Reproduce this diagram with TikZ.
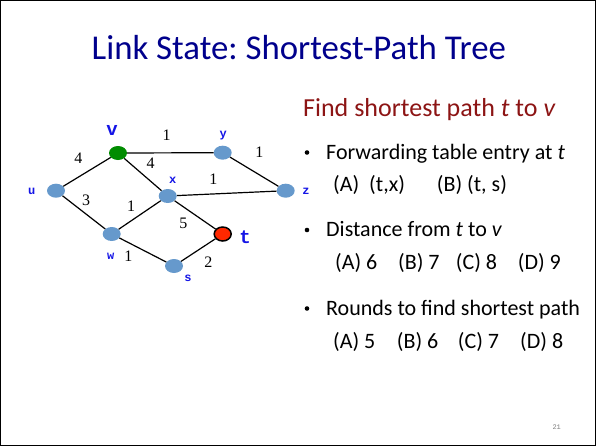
\documentclass[tikz,border=0pt]{standalone}
\usepackage{fontspec}
\setmainfont{Carlito}
\newfontfamily\monob{Liberation Mono}
\newfontfamily\timesf{Liberation Serif}
\usetikzlibrary{shapes.geometric}
\frenchspacing
\definecolor{titleblue}{RGB}{0,0,140}
\definecolor{darkred}{RGB}{140,20,20}
\definecolor{nodeblue}{RGB}{102,153,204}
\definecolor{nodegreen}{RGB}{0,140,0}
\definecolor{nodered}{RGB}{255,40,0}
\definecolor{lblblue}{RGB}{20,20,230}
\tikzset{
  router/.style={ellipse, fill=nodeblue, minimum width=18pt, minimum height=14pt, inner sep=0pt},
  link/.style={line width=1.2pt, black},
  wt/.style={font=\timesf\fontsize{16}{16}\selectfont, inner sep=0pt},
  lbl/.style={font=\monob\bfseries\fontsize{12}{12}\selectfont, text=lblblue, inner sep=0pt},
  biglbl/.style={font=\monob\bfseries\fontsize{19}{19}\selectfont, text=lblblue, inner sep=0pt},
  body/.style={font=\fontsize{22}{22}\selectfont, anchor=base west, inner sep=0pt},
  bul/.style={circle, fill=black, minimum size=4.6pt, inner sep=0pt}
}
\begin{document}
\begin{tikzpicture}[x=1pt,y=-1pt]
\useasboundingbox (0,0) rectangle (596,447);
\draw[line width=1pt] (0.5,0.5) rectangle (595.5,445);
% title
\node[font=\fontsize{34.8}{35}\selectfont, text=titleblue, anchor=base, inner sep=0pt] (title) at (298.8,59) {Link State: Shortest-Path Tree};
% graph
\node[router, fill=nodegreen] (v) at (118,153) {};
\node[router] (y) at (222.7,152.7) {};
\node[router] (u) at (56,190.7) {};
\node[router] (x) at (167.7,196) {};
\node[router] (z) at (285.7,190.7) {};
\node[router] (w) at (111.7,234) {};
\node[router, fill=nodered, draw=black, line width=1.5pt, minimum width=17pt, minimum height=14pt] (t) at (222.7,234) {};
\node[router] (s) at (174,266) {};
\draw[link] (u) -- (v);
\draw[link] (u) -- (w);
\draw[link] (v) -- (y);
\draw[link] (v) -- (x);
\draw[link] (y) -- (z);
\draw[link] (x) -- (z);
\draw[link] (x) -- (w);
\draw[link] (x) -- (t);
\draw[link] (w) -- (s);
\draw[link] (s) -- (t);
% labels
\node[biglbl] (lv) at (112,130) {v};
\node[lbl] (ly) at (223.3,136) {y};
\node[lbl] (lu) at (31.7,191) {u};
\node[lbl] (lx) at (172.7,180) {x};
\node[lbl] (lz) at (306,191) {z};
\node[lbl] (lw) at (110.7,256) {w};
\node[biglbl] (lt) at (245,237) {t};
\node[lbl] (ls) at (188,278) {s};
% weights
\node[wt] (w1) at (78.3,158.3) {4};
\node[wt] (w2) at (166.7,135) {1};
\node[wt] (w3) at (150.7,163.3) {4};
\node[wt] (w4) at (259.3,152.7) {1};
\node[wt] (w5) at (213.3,179.3) {1};
\node[wt] (w6) at (86,200.7) {3};
\node[wt] (w7) at (131,206.7) {1};
\node[wt] (w8) at (183.3,223.3) {5};
\node[wt] (w9) at (128.3,256.7) {1};
\node[wt] (w10) at (208.3,261.7) {2};
% right text
\node[font=\fontsize{26}{26}\selectfont, text=darkred, anchor=base west, inner sep=0pt] (find) at (303,116) {Find shortest path \textit{t} to \textit{v}};
\node[bul] (b1) at (307,152.5) {};
\node[body] (t1) at (326,159) {Forwarding table entry at \textit{t}};
\node[body] (t1a) at (333,191.5) {(A)\ \ (t,x)};
\node[body] (t1b) at (436.7,191.5) {(B) (t, s)};
\node[bul] (b2) at (307,230) {};
\node[body] (t2) at (326,236.5) {Distance from \textit{t} to \textit{v}};
\node[body] (t2a) at (335,269) {(A) 6};
\node[body] (t2b) at (398,269) {(B) 7};
\node[body] (t2c) at (455.7,269) {(C) 8};
\node[body] (t2d) at (517.7,269) {(D) 9};
\node[bul] (b3) at (307,308.5) {};
\node[body] (t3) at (326,315) {Rounds to find shortest path};
\node[body] (t3a) at (333,348) {(A) 5};
\node[body] (t3b) at (396.7,348) {(B) 6};
\node[body] (t3c) at (457.7,348) {(C) 7};
\node[body] (t3d) at (520,348) {(D) 8};
\node[font=\monob\fontsize{7}{7}\selectfont, text=gray, inner sep=0pt] (pg) at (556.7,426.7) {21};
\end{tikzpicture}
\end{document}
